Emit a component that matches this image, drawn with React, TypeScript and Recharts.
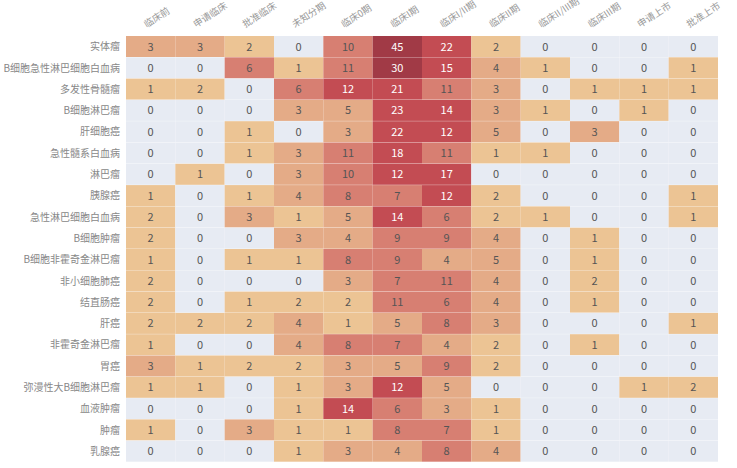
import React from 'react';
import { BarChart, Bar, XAxis, YAxis } from 'recharts';

const stages = ['临床前', '申请临床', '批准临床', '未知分期', '临床0期', '临床I期', '临床I/II期', '临床II期', '临床II/III期', '临床III期', '申请上市', '批准上市'];

const diseases = [
  '实体瘤', 'B细胞急性淋巴细胞白血病', '多发性骨髓瘤', 'B细胞淋巴瘤', '肝细胞癌',
  '急性髓系白血病', '淋巴瘤', '胰腺癌', '急性淋巴细胞白血病', 'B细胞肿瘤',
  'B细胞非霍奇金淋巴瘤', '非小细胞肺癌', '结直肠癌', '肝癌', '非霍奇金淋巴瘤',
  '胃癌', '弥漫性大B细胞淋巴瘤', '血液肿瘤', '肿瘤', '乳腺癌',
];

const counts = [
  [3, 3, 2, 0, 10, 45, 22, 2, 0, 0, 0, 0],
  [0, 0, 6, 1, 11, 30, 15, 4, 1, 0, 0, 1],
  [1, 2, 0, 6, 12, 21, 11, 3, 0, 1, 1, 1],
  [0, 0, 0, 3, 5, 23, 14, 3, 1, 0, 1, 0],
  [0, 0, 1, 0, 3, 22, 12, 5, 0, 3, 0, 0],
  [0, 0, 1, 3, 11, 18, 11, 1, 1, 0, 0, 0],
  [0, 1, 0, 3, 10, 12, 17, 0, 0, 0, 0, 0],
  [1, 0, 1, 4, 8, 7, 12, 2, 0, 0, 0, 1],
  [2, 0, 3, 1, 5, 14, 6, 2, 1, 0, 0, 1],
  [2, 0, 0, 3, 4, 9, 9, 4, 0, 1, 0, 0],
  [1, 0, 1, 1, 8, 9, 4, 5, 0, 1, 0, 0],
  [2, 0, 0, 0, 3, 7, 11, 4, 0, 2, 0, 0],
  [2, 0, 1, 2, 2, 11, 6, 4, 0, 1, 0, 0],
  [2, 2, 2, 4, 1, 5, 8, 3, 0, 0, 0, 1],
  [1, 0, 0, 4, 8, 7, 4, 2, 0, 1, 0, 0],
  [3, 1, 2, 2, 3, 5, 9, 2, 0, 0, 0, 0],
  [1, 1, 0, 1, 3, 12, 5, 0, 0, 0, 1, 2],
  [0, 0, 0, 1, 14, 6, 3, 1, 0, 0, 0, 0],
  [1, 0, 3, 1, 1, 8, 7, 1, 0, 0, 0, 0],
  [0, 0, 0, 1, 3, 4, 8, 4, 0, 0, 0, 0],
];

const stageTicks = stages.map((_, i) => i + 0.5);

// every cell is one unit of a stacked bar, so the scales place it
const data = diseases.map((name) => {
  const row: any = { name };
  stages.forEach((_, c) => { row['s' + c] = 1; });
  return row;
});

const colorFor = (v: number) => {
  if (v === 0) return '#e7ebf3';
  if (v <= 2) return '#ecc494';
  if (v <= 5) return '#e4ab87';
  if (v <= 11) return '#d77f72';
  if (v <= 29) return '#c34c53';
  return '#a13a46';
};

const font = '"Noto Sans CJK SC", "Noto Sans", sans-serif';

const TopTick = (props: any) => {
  const { x, y, payload } = props;
  const label = stages[Math.floor(payload.value)];
  const tx = x - 4;
  const ty = y - 8;
  return (
    <text x={tx} y={ty} transform={`rotate(-33, ${tx}, ${ty})`} textAnchor="start" fontSize={9.5} fill="#999" fontFamily={font}>
      {label}
    </text>
  );
};

const makeCell = (col: number) => (props: any) => {
  const { x, y, width, height, index } = props;
  const v = counts[index][col];
  return (
    <g>
      <rect x={x} y={y} width={width} height={height} fill={colorFor(v)} />
      <text x={x + width / 2} y={y + height / 2 + 4} textAnchor="middle" fontSize={11} fill={v >= 12 ? '#fff' : '#555'} fontFamily={font}>
        {v}
      </text>
    </g>
  );
};

const App: React.FC = () => {
  return (
    <div style={{ position: 'absolute', left: 0, top: 0, background: '#fff' }}>
      <BarChart
        width={737}
        height={468}
        data={data}
        layout="vertical"
        barCategoryGap={0}
        margin={{ top: 0, right: 19, bottom: 6, left: 0 }}
      >
        <XAxis
          type="number"
          orientation="top"
          domain={[0, 12]}
          ticks={stageTicks}
          interval={0}
          height={36}
          axisLine={false}
          tickLine={false}
          tickSize={0}
          tickMargin={0}
          tick={<TopTick />}
        />
        <YAxis
          type="category"
          dataKey="name"
          width={126}
          interval={0}
          axisLine={false}
          tickLine={false}
          tickSize={0}
          tickMargin={6}
          tick={{ fontSize: 10, fill: '#888', fontFamily: font }}
        />
        {stages.map((s, c) => (
          <Bar key={s} dataKey={'s' + c} stackId="a" isAnimationActive={false} shape={makeCell(c)} />
        ))}
      </BarChart>
    </div>
  );
};

export default App;
